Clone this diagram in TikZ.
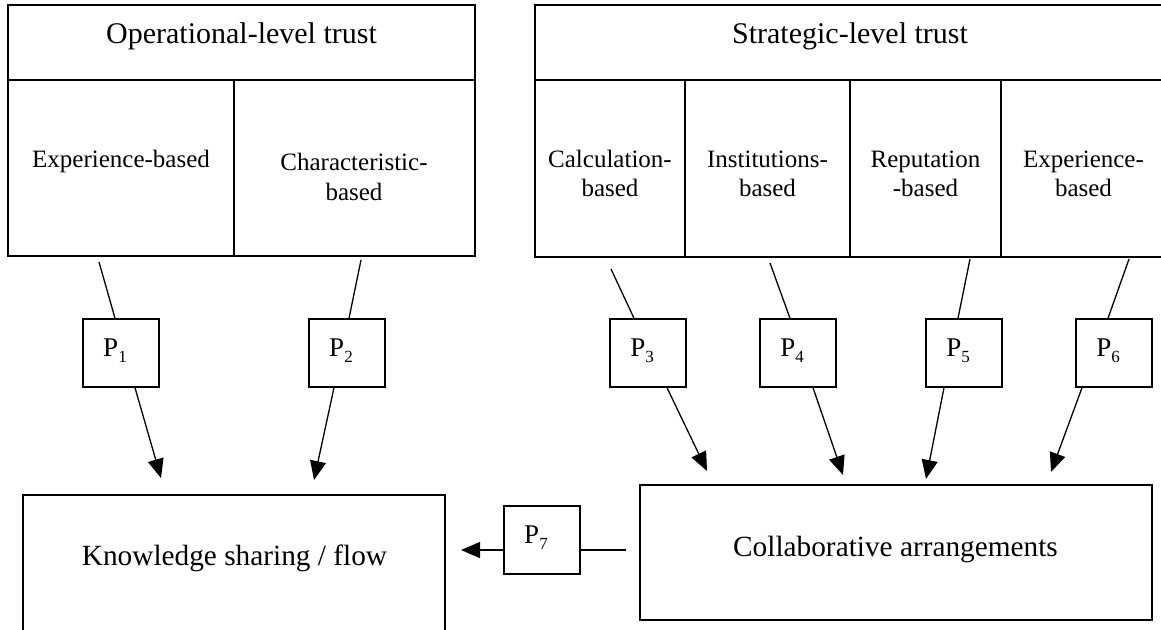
\documentclass[tikz,border=0pt]{standalone}
\usepackage{fontspec}
\setmainfont{Liberation Serif}
\usetikzlibrary{arrows.meta}
\tikzset{
  tbox/.style={draw, line width=1.8pt},
  bigbox/.style={draw, line width=1.6pt, inner sep=0pt},
  pbox/.style={draw, line width=1.5pt, minimum width=76pt, minimum height=68pt, inner sep=0pt,
    text height=17pt, text depth=10pt, font=\fontsize{27}{30}\selectfont},
  conn/.style={line width=1.3pt},
  arr/.style={line width=1.3pt, -{Triangle[length=19pt,width=16pt]}},
  titletxt/.style={anchor=base, inner sep=0pt, font=\fontsize{30}{36}\selectfont},
  subtxt/.style={anchor=base, inner sep=0pt, font=\fontsize{25}{29}\selectfont},
  bigtxt/.style={anchor=base, inner sep=0pt, font=\fontsize{29.3}{35}\selectfont},
}
\newcommand\psub[1]{P\raisebox{-6pt}{\fontsize{17}{17}\selectfont #1}\hspace*{12pt}}
\begin{document}
\begin{tikzpicture}[x=1pt,y=-1pt]
\useasboundingbox (0,0) rectangle (1161,629);
\fill[white] (0,0) rectangle (1161,629);

% top-left table
\draw[tbox] (8,5) rectangle (475,256);
\draw[tbox] (8,80) -- (475,80);
\draw[tbox] (234,80) -- (234,256);
\node[titletxt] (opt) at (241.5,43) {Operational-level trust};
\node[subtxt] (oexp) at (121,167) {Experience-based};
\node[subtxt] (ochar1) at (354,170) {Characteristic-};
\node[subtxt] (ochar2) at (354,200) {based};

% top-right table
\draw[tbox] (535,5) rectangle (1166,257);
\draw[tbox] (535,80) -- (1166,80);
\draw[tbox] (685,80) -- (685,257);
\draw[tbox] (850,80) -- (850,257);
\draw[tbox] (1001,80) -- (1001,257);
\node[titletxt] (stt) at (850,43) {Strategic-level trust};
\node[subtxt] (scal1) at (610,167) {Calculation-};
\node[subtxt] (scal2) at (610,196) {based};
\node[subtxt] (sins1) at (767.5,167) {Institutions-};
\node[subtxt] (sins2) at (767.5,196) {based};
\node[subtxt] (srep1) at (925.5,167) {Reputation};
\node[subtxt] (srep2) at (925.5,196) {-based};
\node[subtxt] (sexp1) at (1083.5,167) {Experience-};
\node[subtxt] (sexp2) at (1083.5,196) {based};

% bottom boxes
\node[bigbox, minimum width=422pt, minimum height=145pt] (KS) at (234,567.5) {};
\node[bigtxt] (kstxt) at (234.5,565) {Knowledge sharing / flow};
\node[bigbox, minimum width=512pt, minimum height=135pt] (CA) at (896,552.5) {};
\node[bigtxt] (catxt) at (895.5,556) {Collaborative arrangements};

% proposition boxes
\node[pbox] (P1) at (121,353) {\psub{1}};
\node[pbox] (P2) at (347,353) {\psub{2}};
\node[pbox] (P3) at (648,353) {\psub{3}};
\node[pbox] (P4) at (798,353) {\psub{4}};
\node[pbox] (P5) at (964,353) {\psub{5}};
\node[pbox] (P6) at (1114,353) {\psub{6}};
\node[pbox] (P7) at (542,540) {\psub{7}};

% free ends
\coordinate (s1) at (99,262);   \coordinate (e1) at (161,478);
\coordinate (s2) at (361,260);  \coordinate (e2) at (314,480);
\coordinate (s3) at (611,269);  \coordinate (e3) at (707,471);
\coordinate (s4) at (770,263);  \coordinate (e4) at (843,475);
\coordinate (s5) at (970,259);  \coordinate (e5) at (926,479);
\coordinate (s6) at (1129,259); \coordinate (e6) at (1051,472);
\coordinate (s7) at (626,550);  \coordinate (e7) at (461,550);

% connectors
\draw[conn] (s1) -- ([xshift=-6pt]P1.north);
\draw[arr] ([xshift=14pt]P1.south) -- (e1);
\draw[conn] (s2) -- ([xshift=2pt]P2.north);
\draw[arr] ([xshift=-13pt]P2.south) -- (e2);
\draw[conn] (s3) -- ([xshift=-14pt]P3.north);
\draw[arr] ([xshift=19pt]P3.south) -- (e3);
\draw[conn] (s4) -- ([xshift=-8pt]P4.north);
\draw[arr] ([xshift=15pt]P4.south) -- (e4);
\draw[conn] (s5) -- ([xshift=-6pt]P5.north);
\draw[arr] ([xshift=-20pt]P5.south) -- (e5);
\draw[conn] (s6) -- ([xshift=-6pt]P6.north);
\draw[arr] ([xshift=-32pt]P6.south) -- (e6);
\draw[conn] (s7) -- (s7 -| P7.east);
\draw[arr] (s7 -| P7.west) -- (e7);
\end{tikzpicture}
\end{document}
